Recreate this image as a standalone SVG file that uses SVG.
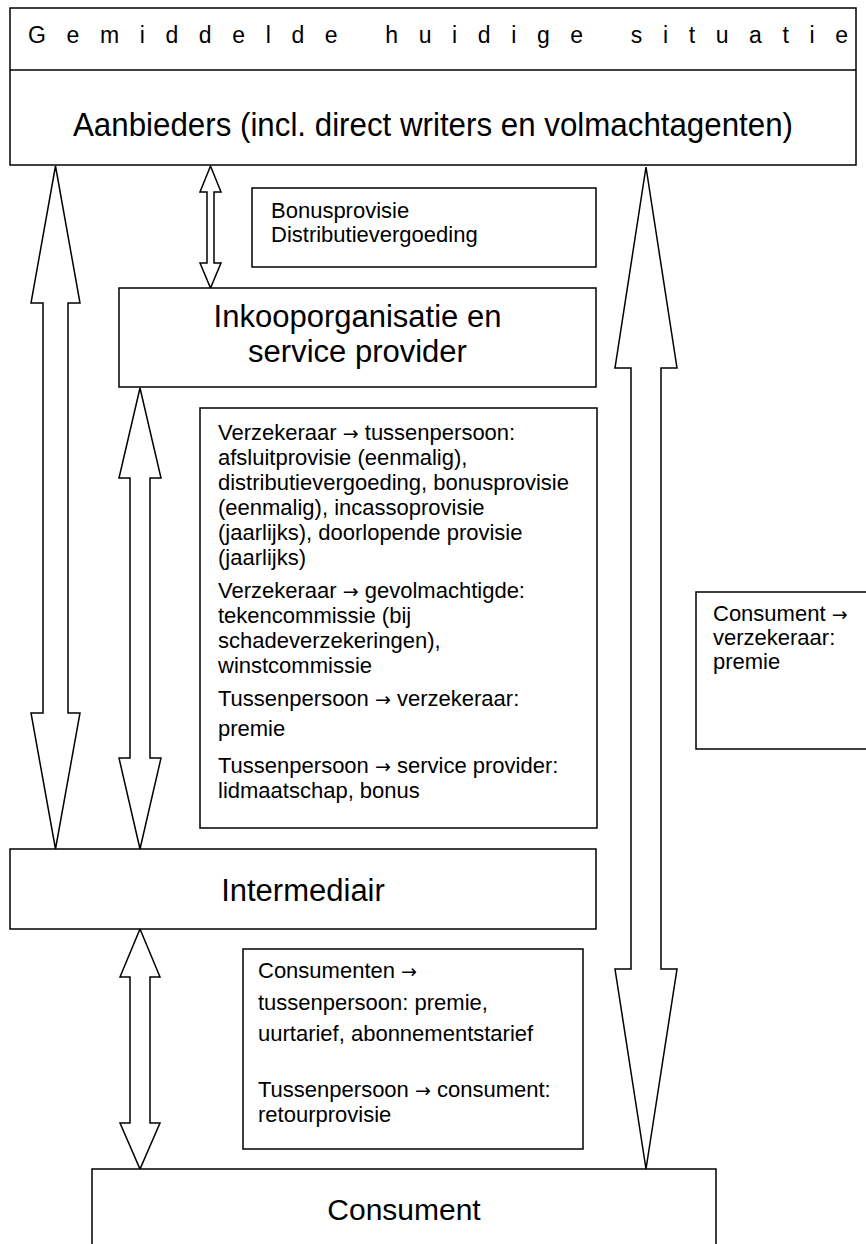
<svg xmlns="http://www.w3.org/2000/svg" width="866" height="1244" viewBox="0 0 866 1244">
<style>
.box{fill:#fff;stroke:#000;stroke-width:1.5}
.arr{fill:#fff;stroke:#000;stroke-width:1.5;stroke-linejoin:miter}
.t{font-family:"Liberation Sans",Arial,sans-serif;fill:#000}
.big{font-size:31px}
.sm{font-size:22px}
.ar{font-family:"DejaVu Sans",sans-serif;font-size:19px}
</style>
<rect width="866" height="1244" fill="#fff"/>
<g id="connectors">
<polygon class="arr" points="55.5,166 80,303 68,303 68,713 80,713 55.5,849 31,713 43,713 43,303 31,303"/>
<polygon class="arr" points="210.5,166 221,192 214,192 214,263 221,263 210.5,288 200,263 207,263 207,192 200,192"/>
<polygon class="arr" points="140,388 161,478 150,478 150,758 161,758 140,849 119,758 130,758 130,478 119,478"/>
<polygon class="arr" points="140,929 160,977 150,977 150,1123 160,1123 140,1169 120,1123 130,1123 130,977 120,977"/>
<polygon class="arr" points="646,167 677,368 661,368 661,969 677,969 646,1169 615,969 631,969 631,368 615,368"/>
</g>
<g id="aanbieders">
<rect class="box" x="10" y="8" width="846" height="157"/>
<line x1="10" y1="70" x2="856" y2="70" stroke="#000" stroke-width="1.5"/>
<text class="t" x="28" y="43" font-size="23" textLength="820" lengthAdjust="spacing">Gemiddelde huidige situatie</text>
<text class="t" x="433" y="136" font-size="33" text-anchor="middle" textLength="720" lengthAdjust="spacingAndGlyphs">Aanbieders (incl. direct writers en volmachtagenten)</text>
</g>
<g id="bonus">
<rect class="box" x="252" y="188" width="344" height="79"/>
<text class="t sm" x="271" y="218">Bonusprovisie</text>
<text class="t sm" x="271" y="242">Distributievergoeding</text>
</g>
<g id="inkoop">
<rect class="box" x="119" y="288" width="477" height="99"/>
<text class="t big" x="357.5" y="327" text-anchor="middle">Inkooporganisatie en</text>
<text class="t big" x="357.5" y="362" text-anchor="middle">service provider</text>
</g>
<g id="vergoedingen">
<rect class="box" x="200" y="408" width="397" height="420"/>
<text class="t sm" x="218" y="440">Verzekeraar <tspan class="ar">→</tspan> tussenpersoon:</text>
<text class="t sm" x="218" y="465">afsluitprovisie (eenmalig),</text>
<text class="t sm" x="218" y="490">distributievergoeding, bonusprovisie</text>
<text class="t sm" x="218" y="515">(eenmalig), incassoprovisie</text>
<text class="t sm" x="218" y="540">(jaarlijks), doorlopende provisie</text>
<text class="t sm" x="218" y="565">(jaarlijks)</text>
<text class="t sm" x="218" y="598">Verzekeraar <tspan class="ar">→</tspan> gevolmachtigde:</text>
<text class="t sm" x="218" y="623">tekencommissie (bij</text>
<text class="t sm" x="218" y="648">schadeverzekeringen),</text>
<text class="t sm" x="218" y="673">winstcommissie</text>
<text class="t sm" x="218" y="706">Tussenpersoon <tspan class="ar">→</tspan> verzekeraar:</text>
<text class="t sm" x="218" y="736">premie</text>
<text class="t sm" x="218" y="773">Tussenpersoon <tspan class="ar">→</tspan> service provider:</text>
<text class="t sm" x="218" y="798">lidmaatschap, bonus</text>
</g>
<g id="consument-verzekeraar">
<rect class="box" x="696" y="592" width="180" height="157"/>
<text class="t sm" x="713" y="621">Consument <tspan class="ar">→</tspan></text>
<text class="t sm" x="713" y="645">verzekeraar:</text>
<text class="t sm" x="713" y="669">premie</text>
</g>
<g id="intermediair">
<rect class="box" x="10" y="849" width="586" height="80"/>
<text class="t big" x="303" y="901" text-anchor="middle">Intermediair</text>
</g>
<g id="consumenten">
<rect class="box" x="243" y="949" width="340" height="200"/>
<text class="t sm" x="258" y="978">Consumenten <tspan class="ar">→</tspan></text>
<text class="t sm" x="258" y="1010">tussenpersoon: premie,</text>
<text class="t sm" x="258" y="1041">uurtarief, abonnementstarief</text>
<text class="t sm" x="258" y="1097">Tussenpersoon <tspan class="ar">→</tspan> consument:</text>
<text class="t sm" x="258" y="1122">retourprovisie</text>
</g>
<g id="consument">
<rect class="box" x="92" y="1169" width="624" height="90"/>
<text class="t" x="404" y="1220" font-size="30" text-anchor="middle">Consument</text>
</g>
</svg>
